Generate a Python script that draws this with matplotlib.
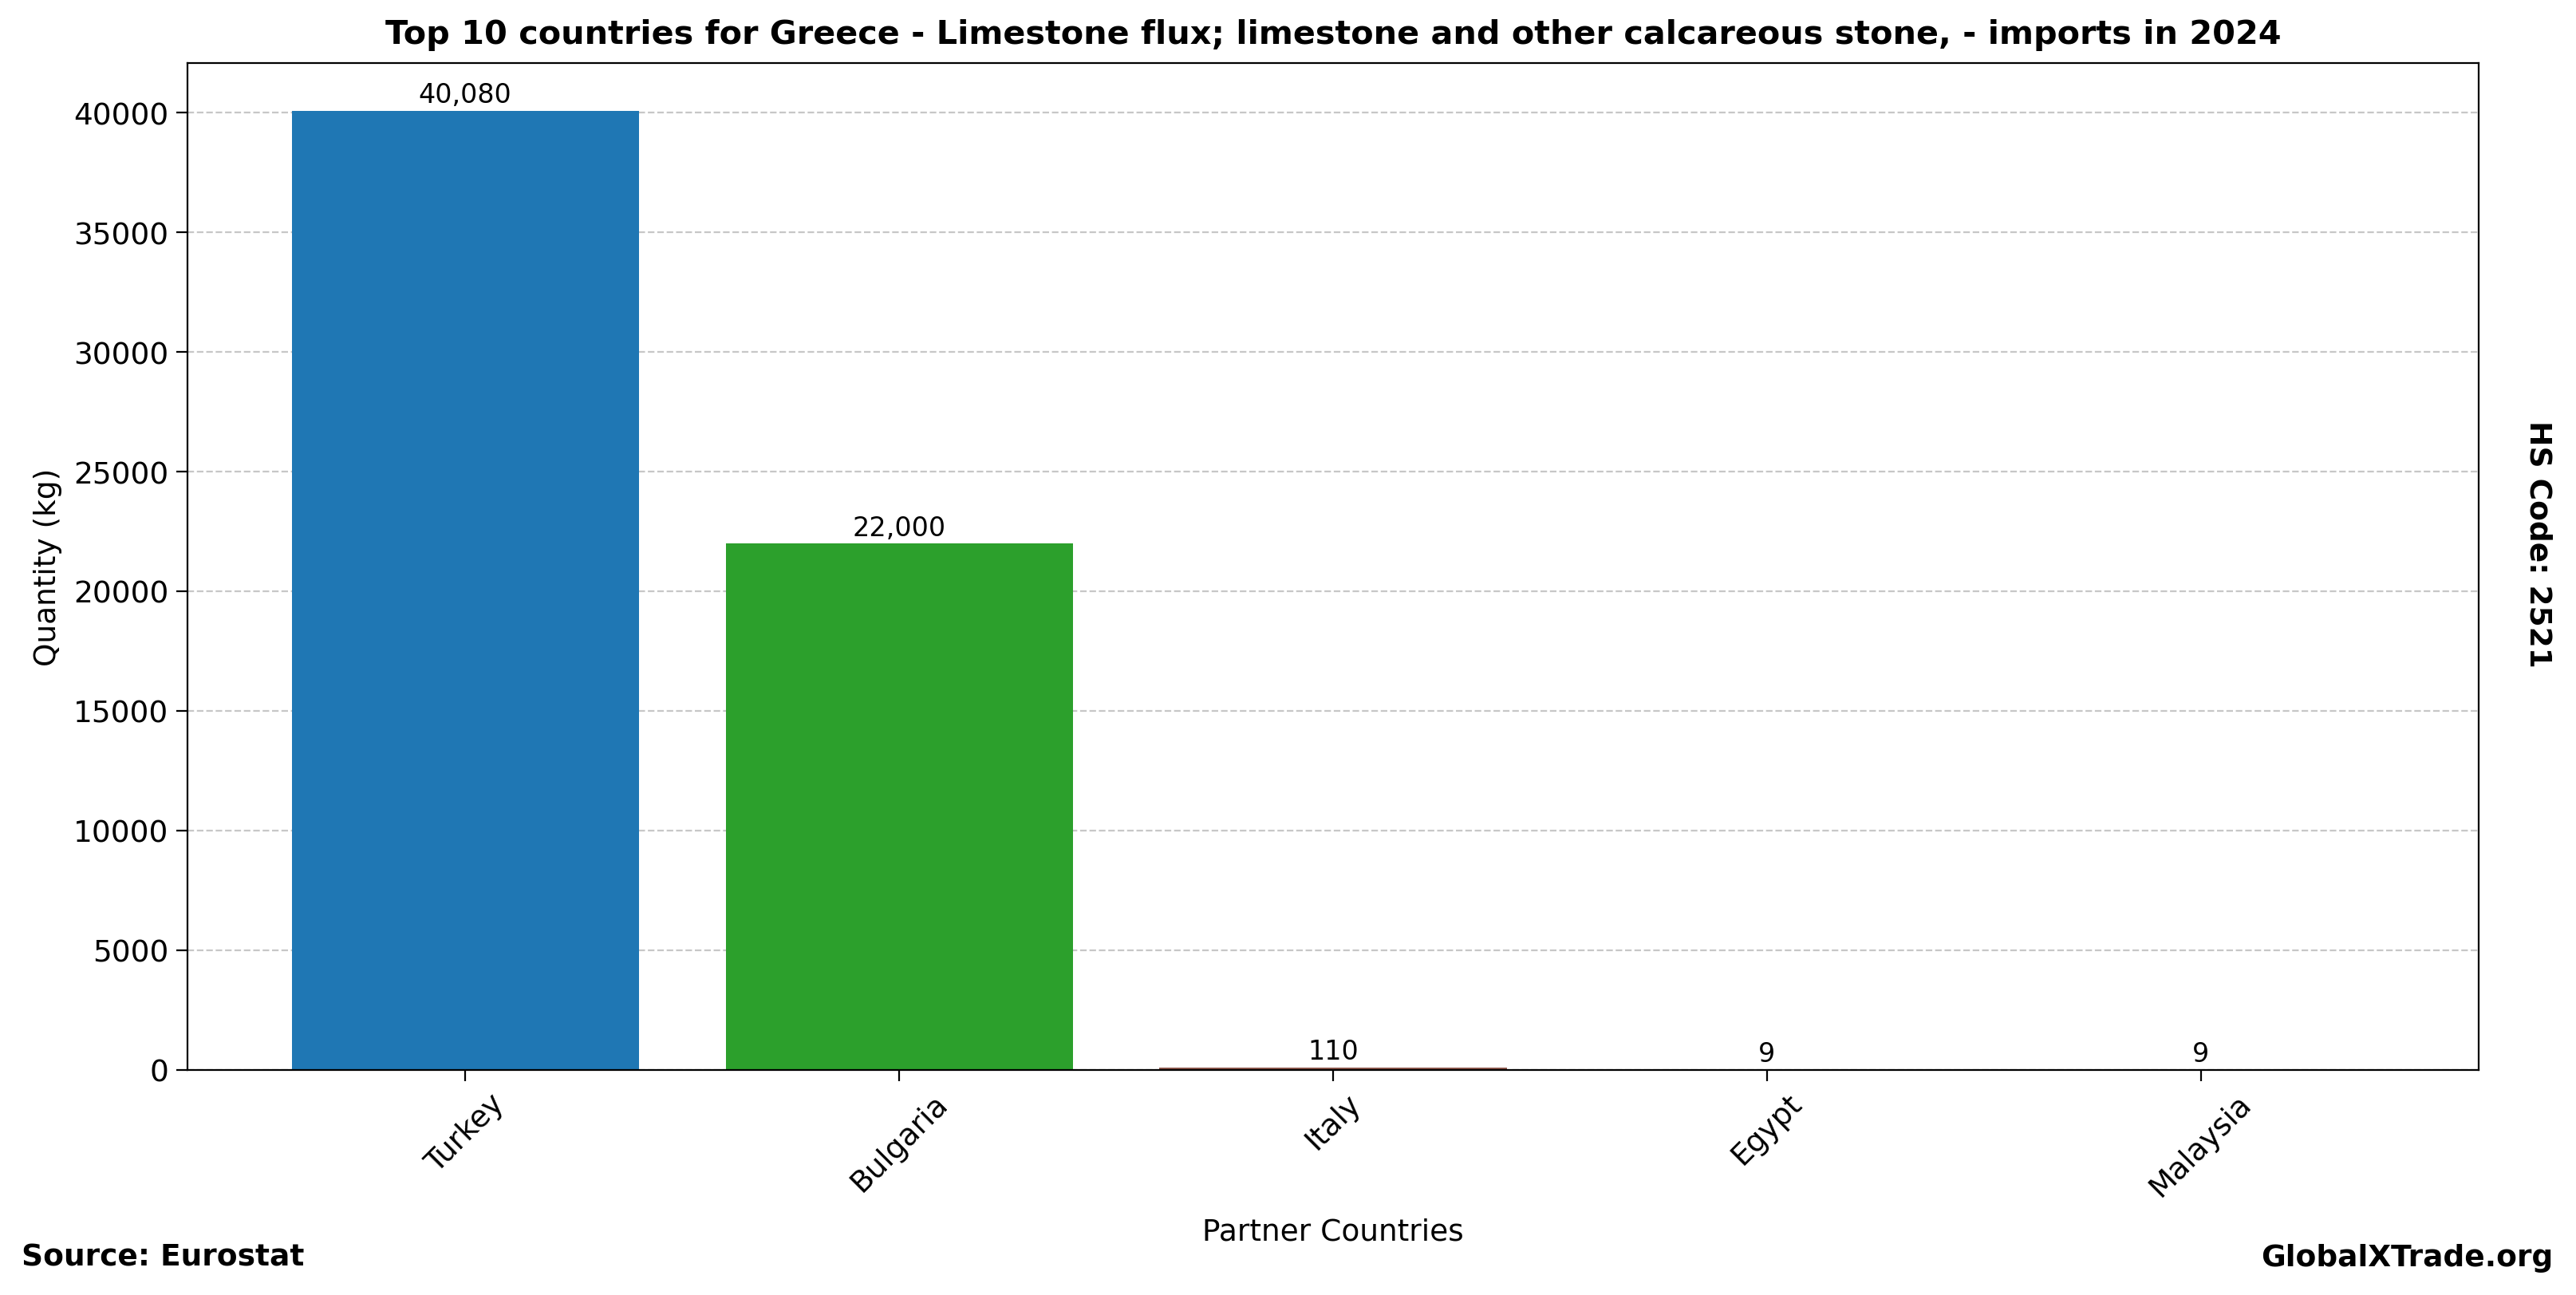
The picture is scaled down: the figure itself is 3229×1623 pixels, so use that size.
import matplotlib
matplotlib.use("Agg")
import matplotlib.pyplot as plt

countries = ["Turkey", "Bulgaria", "Italy", "Egypt", "Malaysia"]
values = [40080, 22000, 110, 9, 9]
colors = ["#1f77b4", "#2ca02c", "#8c564b", "#e377c2", "#7f7f7f"]

fig = plt.figure(figsize=(16.145, 8.12), dpi=200)
ax = fig.add_axes([0.0728, 0.1737, 0.8894, 0.7773])
bars = ax.bar(countries, values, color=colors, width=0.8, zorder=2)
for b, v in zip(bars, values):
    ax.annotate(f"{v:,}", (b.get_x() + b.get_width() / 2, b.get_height()),
                xytext=(0, 1.2), textcoords="offset points",
                ha="center", va="bottom", fontsize=12)
ax.set_ylim(0, 42084)
ax.grid(axis="y", linestyle="--", alpha=0.7, zorder=0)
ax.set_title("Top 10 countries for Greece - Limestone flux; limestone and other calcareous stone, - imports in 2024",
             fontsize=14.9, fontweight="bold", pad=9)
ax.set_xlabel("Partner Countries", fontsize=13.5, labelpad=7)
ax.set_ylabel("Quantity (kg)", fontsize=13.5, labelpad=5)
ax.tick_params(labelsize=13.5, length=5)
plt.setp(ax.get_xticklabels(), rotation=45)
fig.text(0.0085, 0.029, "Source: Eurostat", fontsize=13.5, fontweight="bold", ha="left", va="center")
fig.text(0.991, 0.029, "GlobalXTrade.org", fontsize=13.5, fontweight="bold", ha="right", va="center")
fig.text(0.9853, 0.58, "HS Code: 2521", fontsize=13.5, fontweight="bold", rotation=-90, ha="center", va="center")
fig.savefig("out.png", dpi=200)
